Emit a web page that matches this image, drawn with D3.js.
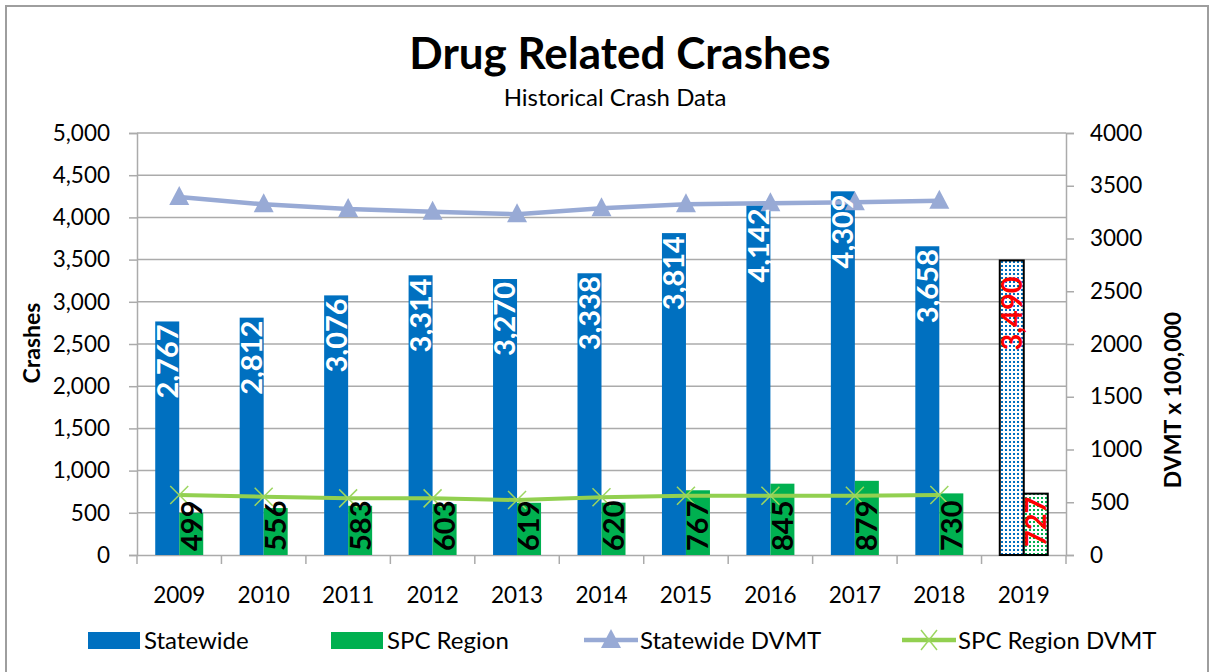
<!DOCTYPE html>
<html><head><meta charset="utf-8">
<script src="https://cdn.jsdelivr.net/npm/d3@7"></script>
<style>
html,body{margin:0;padding:0;background:#fff;}
svg{display:block;font-family:Lato, "Open Sans", sans-serif;}
</style></head>
<body>
<svg id="chart" width="1217" height="672"></svg>
<script>
const years = ["2009","2010","2011","2012","2013","2014","2015","2016","2017","2018","2019"];
const statewide = [2767, 2812, 3076, 3314, 3270, 3338, 3814, 4142, 4309, 3658, 3490];
const spcRegion = [499, 556, 583, 603, 619, 620, 767, 845, 879, 730, 727];
const dvmtYears = ["2009","2010","2011","2012","2013","2014","2015","2016","2017","2018"];
const statewideDVMT = [3393, 3324, 3280, 3254, 3229, 3286, 3324, 3334, 3343, 3358];
const spcDVMT = [569, 553, 537, 537, 521, 547, 562, 562, 562, 569];
const leftTicks = [0, 500, 1000, 1500, 2000, 2500, 3000, 3500, 4000, 4500, 5000];
const rightTicks = [0, 500, 1000, 1500, 2000, 2500, 3000, 3500, 4000];
const projectedYear = "2019";

const C = {blue:"#0070C0", green:"#00B050", dvmtBlue:"#98AAD5", dvmtGreen:"#92D050", grid:"#ABABAB"};
const svg = d3.select("#chart");
const L = 137, R = 1066, T = 133, B = 555;
const labelFont = "'Liberation Sans Narrow', 'Arial Narrow', Lato, sans-serif";

// patterns
const defs = svg.append("defs");
function dotPattern(id, color){
  const p = defs.append("pattern").attr("id", id).attr("patternUnits","userSpaceOnUse")
    .attr("width",4).attr("height",4);
  p.append("rect").attr("width",4).attr("height",4).attr("fill","#fff");
  p.append("rect").attr("x",1).attr("y",1).attr("width",2).attr("height",2).attr("fill",color);
}
dotPattern("dotBlue", C.blue);
dotPattern("dotGreen", C.green);

// outer border
svg.append("rect").attr("x",6).attr("y",6).attr("width",1202).attr("height",700)
  .attr("fill","none").attr("stroke","#9E9E9E").attr("stroke-width",2);

const x = d3.scaleBand().domain(years).range([L, R]).padding(0);
const xs = d3.scaleBand().domain(["s","r"]).range([x.bandwidth()/2 - 24, x.bandwidth()/2 + 24]).padding(0);
const yL = d3.scaleLinear().domain([0, 5000]).range([B, T]);
const yR = d3.scaleLinear().domain([0, 4000]).range([B, T]);

// gridlines
svg.append("g").selectAll("line").data(leftTicks.filter(d=>d>0)).join("line")
  .attr("x1", L).attr("x2", R).attr("y1", d=>yL(d)).attr("y2", d=>yL(d))
  .attr("stroke", C.grid).attr("stroke-width", 1.5);

// left axis
const gL = svg.append("g").attr("transform", `translate(${L},0)`)
  .call(d3.axisLeft(yL).tickValues(leftTicks).tickFormat(d3.format(",")).tickSize(8).tickPadding(19));
gL.select(".domain").attr("stroke", C.grid).attr("stroke-width",1.5);
gL.selectAll(".tick line").attr("stroke", C.grid).attr("stroke-width",1.5);
gL.selectAll(".tick text").attr("font-size", 22.5).attr("fill","#000").attr("font-family","Lato");

// right axis
const gR = svg.append("g").attr("transform", `translate(${R},0)`)
  .call(d3.axisRight(yR).tickValues(rightTicks).tickFormat(d3.format("d")).tickSize(8).tickPadding(16));
gR.select(".domain").attr("stroke", C.grid).attr("stroke-width",1.5);
gR.selectAll(".tick line").attr("stroke", C.grid).attr("stroke-width",1.5);
gR.selectAll(".tick text").attr("font-size", 22.5).attr("fill","#000").attr("font-family","Lato");

// bottom axis
const gB = svg.append("g").attr("transform", `translate(0,${B})`)
  .call(d3.axisBottom(x).tickSize(0).tickPadding(32));
gB.select(".domain").attr("stroke", C.grid).attr("stroke-width",1.5);
gB.selectAll(".tick text").attr("font-size", 22.5).attr("fill","#000").attr("font-family","Lato");
svg.append("g").selectAll("line").data(years.concat(["end"])).join("line")
  .attr("x1", (d,i)=> L + i*x.step()).attr("x2", (d,i)=> L + i*x.step())
  .attr("y1", B).attr("y2", B+9).attr("stroke", C.grid).attr("stroke-width",1.5);

// bars
const bars = svg.append("g");
years.forEach((yr, i) => {
  const proj = yr === projectedYear;
  bars.append("rect")
    .attr("x", x(yr) + xs("s")).attr("width", xs.bandwidth())
    .attr("y", yL(statewide[i])).attr("height", B - yL(statewide[i]))
    .attr("fill", proj ? "url(#dotBlue)" : C.blue)
    .attr("stroke", proj ? "#000" : "none").attr("stroke-width", proj ? 2 : 0);
  bars.append("rect")
    .attr("x", x(yr) + xs("r")).attr("width", xs.bandwidth())
    .attr("y", yL(spcRegion[i])).attr("height", B - yL(spcRegion[i]))
    .attr("fill", proj ? "url(#dotGreen)" : C.green)
    .attr("stroke", proj ? "#000" : "none").attr("stroke-width", proj ? 2 : 0);
});

// lines
const lineS = d3.line().x((d,i)=> x(dvmtYears[i]) + x.bandwidth()/2).y(d=>yR(d));
svg.append("path").datum(statewideDVMT).attr("d", lineS).attr("fill","none")
  .attr("stroke", C.dvmtBlue).attr("stroke-width", 4.5);
svg.append("g").selectAll("path").data(statewideDVMT).join("path")
  .attr("transform", (d,i)=>`translate(${x(dvmtYears[i]) + x.bandwidth()/2},${yR(d)})`)
  .attr("d","M0,-11L10,8L-10,8Z").attr("fill", C.dvmtBlue);

svg.append("path").datum(spcDVMT).attr("d", lineS).attr("fill","none")
  .attr("stroke", C.dvmtGreen).attr("stroke-width", 4);
svg.append("g").selectAll("path").data(spcDVMT).join("path")
  .attr("transform", (d,i)=>`translate(${x(dvmtYears[i]) + x.bandwidth()/2},${yR(d)})`)
  .attr("d","M-9,-9L9,9M-9,9L9,-9").attr("fill","none").attr("stroke", "#9CD660").attr("stroke-width",1.5);

// labels
const labs = svg.append("g").attr("font-family", labelFont).attr("font-weight","bold").attr("font-size",29);
years.forEach((yr, i) => {
  const proj = yr === projectedYear;
  const cx1 = x(yr) + xs("s") + xs.bandwidth()/2;
  const cx2 = x(yr) + xs("r") + xs.bandwidth()/2;
  labs.append("text")
    .attr("transform", `translate(${cx1},${yL(statewide[i]) + (proj ? 16 : 3)}) rotate(-90)`)
    .attr("text-anchor","end").attr("dy","0.36em")
    .attr("fill", proj ? "#FF0000" : "#fff")
    .text(d3.format(",")(statewide[i]));
  labs.append("text")
    .attr("transform", proj ? `translate(${cx2},${yL(spcRegion[i]) + 3}) rotate(-90)` : `translate(${cx2},${B - 4}) rotate(-90)`)
    .attr("text-anchor", proj ? "end" : "start").attr("dy","0.36em")
    .attr("fill", proj ? "#FF0000" : "#000")
    .text(d3.format(",")(spcRegion[i]));
});

// titles
svg.append("text").attr("x", 620).attr("y", 69).attr("text-anchor","middle")
  .attr("font-size", 44).attr("font-weight","bold").text("Drug Related Crashes");
svg.append("text").attr("x", 615).attr("y", 106).attr("text-anchor","middle")
  .attr("font-size", 24).text("Historical Crash Data");
svg.append("text").attr("transform","translate(32,343) rotate(-90)").attr("text-anchor","middle")
  .attr("dy","0.36em").attr("font-size", 23).attr("font-weight","bold").text("Crashes");
svg.append("text").attr("transform","translate(1173,400) rotate(-90)").attr("text-anchor","middle")
  .attr("dy","0.36em").attr("font-size", 23).attr("font-weight","bold").text("DVMT x 100,000");

// legend
const legendItems = [
  {name:"Statewide", type:"bar", color:C.blue, x:88},
  {name:"SPC Region", type:"bar", color:C.green, x:331},
  {name:"Statewide DVMT", type:"tri", color:C.dvmtBlue, x:584},
  {name:"SPC Region DVMT", type:"x", color:C.dvmtGreen, x:902}
];
const lg = svg.append("g");
legendItems.forEach(it => {
  const g = lg.append("g").attr("transform", `translate(${it.x},640)`);
  if (it.type === "bar") {
    g.append("rect").attr("x",0).attr("y",-8).attr("width",52).attr("height",17).attr("fill",it.color);
  } else {
    g.append("line").attr("x1",0).attr("x2",54).attr("y1",0).attr("y2",0).attr("stroke",it.color).attr("stroke-width", 4.5);
    if (it.type === "tri") g.append("path").attr("transform","translate(27,0)").attr("d","M0,-11L10,8L-10,8Z").attr("fill",it.color);
    else g.append("path").attr("transform","translate(27,0)").attr("d","M-8,-10L8,10M-8,10L8,-10").attr("stroke","#9CD660").attr("stroke-width",1.5);
  }
  g.append("text").attr("x", 56).attr("dy","0.36em").attr("font-size", 24).attr("fill","#000").text(it.name);
});
</script>
</body></html>
